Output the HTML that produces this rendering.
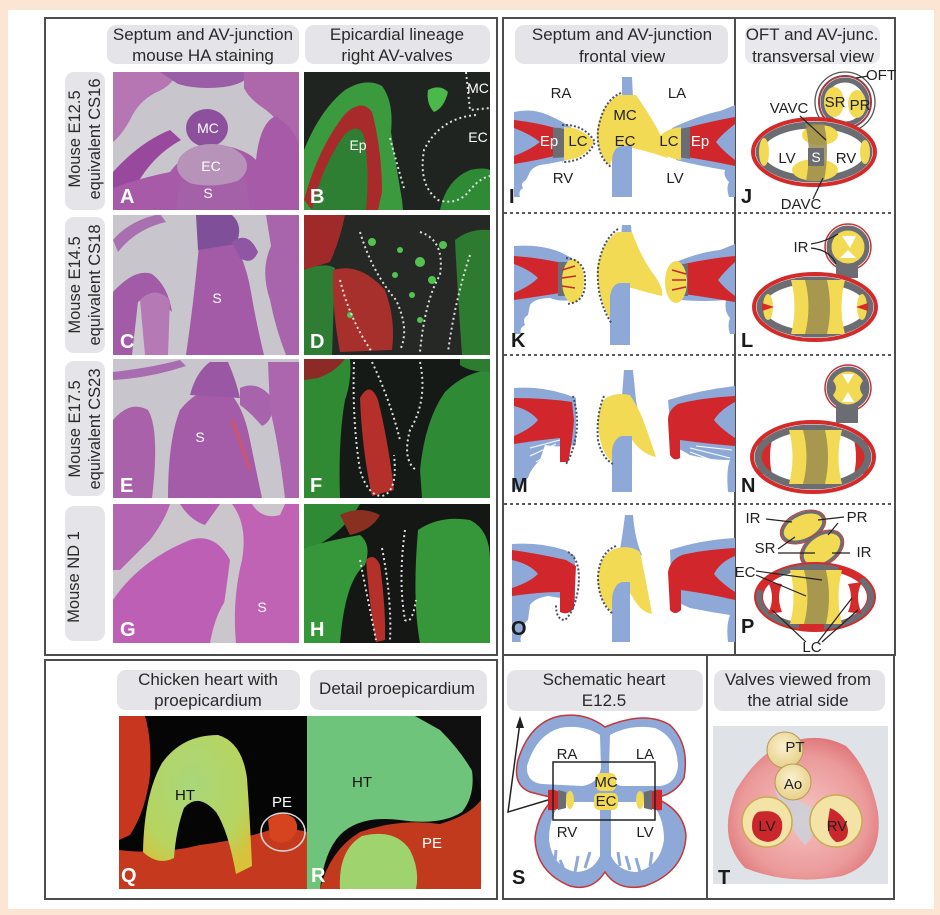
<!DOCTYPE html>
<html><head><meta charset="utf-8"><style>
html,body{margin:0;padding:0;background:#fce6d3;}
svg{display:block;}
text{font-family:"Liberation Sans",Arial,sans-serif;}
</style></head><body>
<svg width="940" height="915" viewBox="0 0 940 915" xmlns="http://www.w3.org/2000/svg">
<defs>
<clipPath id="cA"><rect x="113" y="72" width="186" height="138"/></clipPath>
<clipPath id="cB"><rect x="304" y="72" width="186" height="138"/></clipPath>
<clipPath id="cC"><rect x="113" y="215" width="186" height="140"/></clipPath>
<clipPath id="cD"><rect x="304" y="215" width="186" height="140"/></clipPath>
<clipPath id="cE"><rect x="113" y="359" width="186" height="139"/></clipPath>
<clipPath id="cF"><rect x="304" y="359" width="186" height="139"/></clipPath>
<clipPath id="cG"><rect x="113" y="504" width="186" height="139"/></clipPath>
<clipPath id="cH"><rect x="304" y="504" width="186" height="139"/></clipPath>
<clipPath id="cQ"><rect x="119" y="716" width="188" height="173"/></clipPath>
<clipPath id="cR"><rect x="307" y="716" width="174" height="173"/></clipPath>
<radialGradient id="gHT" cx="0.45" cy="0.35" r="0.7"><stop offset="0" stop-color="#a9d77a"/><stop offset="0.7" stop-color="#b7d460"/><stop offset="1" stop-color="#d7c23a"/></radialGradient>
<radialGradient id="gPink" cx="0.5" cy="0.55" r="0.6"><stop offset="0" stop-color="#f6c4c2"/><stop offset="0.7" stop-color="#eb9a9a"/><stop offset="1" stop-color="#dc6f74"/></radialGradient>
<radialGradient id="gValve" cx="0.45" cy="0.4" r="0.6"><stop offset="0" stop-color="#fbf1cf"/><stop offset="1" stop-color="#e8d08a"/></radialGradient>
</defs>

<rect x="8" y="10" width="926" height="899" fill="#ffffff"/>

<!-- ================= PANEL 1 ================= -->
<rect x="45" y="18" width="452" height="637" fill="#fff" stroke="#4d4d4d" stroke-width="2"/>
<rect x="107" y="25" width="192" height="39" rx="9" fill="#e4e4e9"/>
<rect x="305" y="25" width="185" height="39" rx="9" fill="#e4e4e9"/>
<g font-size="17" fill="#2a2a2a" text-anchor="middle">
<text x="203" y="40">Septum and AV-junction</text>
<text x="203" y="61">mouse HA staining</text>
<text x="397" y="40">Epicardial lineage</text>
<text x="397" y="61">right AV-valves</text>
</g>
<rect x="65" y="72" width="40" height="138" rx="9" fill="#e4e4e9"/>
<rect x="65" y="217" width="40" height="136" rx="9" fill="#e4e4e9"/>
<rect x="65" y="361" width="40" height="135" rx="9" fill="#e4e4e9"/>
<rect x="65" y="506" width="40" height="135" rx="9" fill="#e4e4e9"/>
<g font-size="16.5" fill="#2a2a2a" text-anchor="middle">
<text transform="translate(80,139) rotate(-90)">Mouse E12.5</text>
<text transform="translate(100,139) rotate(-90)">equivalent CS16</text>
<text transform="translate(80,285) rotate(-90)">Mouse E14.5</text>
<text transform="translate(100,285) rotate(-90)">equivalent CS18</text>
<text transform="translate(80,429) rotate(-90)">Mouse E17.5</text>
<text transform="translate(100,429) rotate(-90)">equivalent CS23</text>
<text transform="translate(79,577) rotate(-90)">Mouse ND 1</text>
</g>

<!-- Photo A -->
<g clip-path="url(#cA)">
<rect x="113" y="72" width="186" height="138" fill="#c9c5cd"/>
<path d="M113,72 L178,72 Q172,86 155,93 Q138,102 130,120 Q121,136 113,142 Z" fill="#b676b4"/>
<path d="M160,72 L252,72 Q246,84 224,87 Q198,90 178,84 Z" fill="#9a5ea6"/>
<path d="M244,72 L299,72 L299,158 Q286,126 266,110 Q249,99 244,88 Z" fill="#ad68ac"/>
<path d="M113,172 Q140,142 170,130 L181,140 Q152,156 136,186 L113,210 Z" fill="#98499d"/>
<path d="M113,210 L113,188 Q140,178 170,172 Q186,150 214,144 Q245,148 256,160 Q260,122 276,116 Q296,130 299,146 L299,210 Z" fill="#a75aa8"/>
<ellipse cx="207" cy="128" rx="21" ry="19" fill="#8d509d"/>
<ellipse cx="212" cy="166" rx="35" ry="22" fill="#b792b9"/>
<path d="M180,180 Q210,192 246,178 L250,210 L176,210 Z" fill="#a561a8"/>
</g>
<g font-size="14" fill="#fff" text-anchor="middle">
<text x="208" y="133">MC</text><text x="211" y="171">EC</text><text x="208" y="198">S</text>
</g>

<!-- Photo B -->
<g clip-path="url(#cB)">
<rect x="304" y="72" width="186" height="138" fill="#202421"/>
<path d="M304,210 L304,150 Q320,110 345,90 Q366,77 382,86 Q394,102 391,132 Q396,165 402,200 L403,210 Z" fill="#3b9a3e"/>
<path d="M304,200 Q318,148 345,114 Q362,98 372,112 Q382,150 382,192 L378,210 L312,210 Z" fill="#a82a2a"/>
<path d="M312,210 Q322,165 345,134 Q358,122 364,136 Q370,170 366,210 Z" fill="#2e7f33"/>
<path d="M440,210 Q446,180 470,170 Q484,167 490,170 L490,210 Z" fill="#2f8a35"/>
<path d="M428,90 Q440,84 448,92 Q444,108 434,112 Q426,104 428,90 Z" fill="#4ab84a"/>
<path d="M390,138 Q398,168 404,188" fill="none" stroke="#ddd" stroke-width="2" stroke-dasharray="2,3"/>
<path d="M476,115 Q440,118 424,150 Q418,185 438,200 Q458,206 470,190 Q480,178 490,176" fill="none" stroke="#ddd" stroke-width="2" stroke-dasharray="2,3"/>
<path d="M466,72 L470,110 L490,108" fill="none" stroke="#ddd" stroke-width="2" stroke-dasharray="2,3"/>
</g>
<g font-size="14" fill="#fff" text-anchor="middle">
<text x="358" y="150">Ep</text><text x="478" y="93">MC</text><text x="478" y="142">EC</text>
</g>

<!-- Photo C -->
<g clip-path="url(#cC)">
<rect x="113" y="215" width="186" height="140" fill="#c9c5cd"/>
<path d="M186,355 Q194,300 199,245 L232,238 Q246,262 251,292 Q256,322 264,355 Z" fill="#a35aa7"/>
<path d="M196,215 L232,215 Q244,226 236,244 L198,250 Z" fill="#7f4f99"/>
<path d="M113,292 Q135,268 152,274 Q168,286 172,312 Q152,292 138,302 L132,355 L113,355 Z" fill="#a25ba6"/>
<path d="M113,240 Q130,220 160,214 L166,222 Q136,229 118,252 Z" fill="#a870b0"/>
<path d="M232,242 Q248,230 258,252 Q252,266 240,258 Z" fill="#8f56a3"/>
<path d="M266,215 L299,215 L299,355 L286,355 Q276,330 270,300 Q260,270 271,246 Z" fill="#a865ab"/>
<path d="M140,300 Q155,285 170,300 L168,355 L145,355 Z" fill="#b57ab5"/>
</g>
<text x="217" y="303" font-size="14" fill="#fff" text-anchor="middle">S</text>

<!-- Photo D -->
<g clip-path="url(#cD)">
<rect x="304" y="215" width="186" height="140" fill="#252825"/>
<path d="M304,215 L345,215 Q340,240 330,262 L304,270 Z" fill="#a02a2a"/>
<path d="M304,270 Q325,262 335,268 L332,355 L304,355 Z" fill="#2f7d34"/>
<path d="M333,270 Q360,262 385,290 Q396,320 392,350 L340,352 Q332,310 333,270 Z" fill="#a8302c"/>
<path d="M455,240 Q470,228 490,230 L490,355 L462,355 Q458,300 455,240 Z" fill="#2d7a31"/>
<g fill="#52c252"><circle cx="372" cy="242" r="4"/><circle cx="400" cy="250" r="3"/><circle cx="420" cy="262" r="5"/><circle cx="432" cy="280" r="4"/><circle cx="412" cy="295" r="3"/><circle cx="395" cy="275" r="3"/><circle cx="443" cy="245" r="4"/><circle cx="350" cy="315" r="3"/><circle cx="420" cy="320" r="3"/></g>
<path d="M360,232 Q372,272 396,300 Q410,330 400,350" fill="none" stroke="#ddd" stroke-width="2" stroke-dasharray="2,3"/>
<path d="M340,280 Q350,320 372,352" fill="none" stroke="#ddd" stroke-width="2" stroke-dasharray="2,3"/>
<path d="M420,232 Q445,240 440,275 Q425,300 420,352" fill="none" stroke="#ddd" stroke-width="2" stroke-dasharray="2,3"/>
<path d="M470,255 Q455,300 448,352" fill="none" stroke="#ddd" stroke-width="2" stroke-dasharray="2,3"/>
</g>

<!-- Photo E -->
<g clip-path="url(#cE)">
<rect x="113" y="359" width="186" height="139" fill="#c9c5cd"/>
<path d="M113,372 Q150,368 180,360 L186,366 Q150,378 113,380 Z" fill="#a86cb0"/>
<path d="M113,420 Q130,400 148,410 Q160,430 152,498 L113,498 Z" fill="#a962aa"/>
<path d="M168,498 Q168,440 180,410 Q200,385 225,390 Q242,400 250,440 Q256,470 262,498 Z" fill="#a45ca8"/>
<path d="M190,395 Q196,372 210,362 L228,362 Q236,380 240,398 Z" fill="#9a58a4"/>
<path d="M240,388 Q258,380 272,398 Q275,420 262,426 Q250,412 240,405 Z" fill="#a763ab"/>
<path d="M268,362 L299,362 L299,498 L285,498 Q278,440 270,410 Z" fill="#ac66ad"/>
<path d="M232,420 Q240,440 250,470" stroke="#c4567a" stroke-width="4" fill="none"/>
</g>
<text x="200" y="442" font-size="14" fill="#fff" text-anchor="middle">S</text>

<!-- Photo F -->
<g clip-path="url(#cF)">
<rect x="304" y="359" width="186" height="139" fill="#161a17"/>
<path d="M304,359 L350,359 Q352,380 345,400 Q338,440 340,498 L304,498 Z" fill="#2f8a33"/>
<path d="M304,359 L345,359 Q335,372 318,378 L304,380 Z" fill="#8c2a25"/>
<path d="M360,398 Q370,380 378,400 Q388,440 394,490 L372,496 Q362,450 360,398 Z" fill="#b5302b"/>
<path d="M420,470 Q425,420 445,392 Q465,372 490,370 L490,498 L422,498 Z" fill="#2e8a34"/>
<path d="M460,359 L490,359 L490,372 Q470,372 460,365 Z" fill="#2c7d31"/>
<path d="M354,362 Q352,420 360,470 Q368,496 382,496 Q398,492 394,455" fill="none" stroke="#ddd" stroke-width="2" stroke-dasharray="2,3"/>
<path d="M372,362 Q390,400 400,440" fill="none" stroke="#ddd" stroke-width="2" stroke-dasharray="2,3"/>
<path d="M420,362 Q428,400 410,430 Q402,460 416,470" fill="none" stroke="#ddd" stroke-width="2" stroke-dasharray="2,3"/>
</g>

<!-- Photo G -->
<g clip-path="url(#cG)">
<rect x="113" y="504" width="186" height="139" fill="#cac6cc"/>
<path d="M113,643 L113,600 Q140,560 190,540 Q215,532 230,560 Q225,600 218,643 Z" fill="#bd5fb4"/>
<path d="M113,504 L170,504 Q165,520 150,540 Q130,560 120,570 L113,570 Z" fill="#b466b2"/>
<path d="M180,504 Q190,520 205,525 L220,504 Z" fill="#b35fb1"/>
<path d="M232,504 L299,504 L299,643 L236,643 Q232,600 242,560 Q248,525 232,504 Z" fill="#c063b5"/>
<path d="M252,504 Q262,520 280,515 L285,504 Z" fill="#cac6cc"/>
<path d="M210,643 Q215,615 226,600 Q232,620 228,643 Z" fill="#cac6cc"/>
</g>
<text x="262" y="612" font-size="14" fill="#fff" text-anchor="middle">S</text>

<!-- Photo H -->
<g clip-path="url(#cH)">
<rect x="304" y="504" width="186" height="139" fill="#141714"/>
<path d="M304,504 L360,504 Q345,530 318,545 L304,548 Z" fill="#2e8a34"/>
<path d="M304,548 Q330,540 360,535 Q372,545 365,565 Q345,580 340,643 L304,643 Z" fill="#35963a"/>
<path d="M340,515 Q360,505 380,515 Q372,530 350,535 Z" fill="#8a3020"/>
<path d="M366,560 Q374,552 380,565 Q386,610 385,640 L376,642 Q370,610 366,560 Z" fill="#b5302b"/>
<path d="M418,530 Q440,515 470,520 Q490,530 490,560 L490,643 L420,643 Q412,600 418,530 Z" fill="#35963a"/>
<path d="M360,560 Q368,600 376,640" fill="none" stroke="#ddd" stroke-width="2" stroke-dasharray="2,3"/>
<path d="M382,548 Q392,600 390,640" fill="none" stroke="#ddd" stroke-width="2" stroke-dasharray="2,3"/>
<path d="M405,530 Q398,580 405,620 Q412,625 416,600" fill="none" stroke="#ddd" stroke-width="2" stroke-dasharray="2,3"/>
</g>

<g font-size="20" font-weight="bold" fill="#fff">
<text x="120" y="203">A</text><text x="310" y="203">B</text>
<text x="120" y="348">C</text><text x="310" y="348">D</text>
<text x="120" y="492">E</text><text x="310" y="492">F</text>
<text x="120" y="636">G</text><text x="310" y="636">H</text>
</g>

<!-- ================= PANEL 2 ================= -->
<rect x="503" y="18" width="392" height="637" fill="#fff" stroke="#4d4d4d" stroke-width="2"/>
<line x1="735" y1="18" x2="735" y2="655" stroke="#4d4d4d" stroke-width="2"/>
<g stroke="#5a5a5a" stroke-width="2" stroke-dasharray="3,3">
<line x1="504" y1="213" x2="894" y2="213"/>
<line x1="504" y1="355" x2="894" y2="355"/>
<line x1="504" y1="504" x2="894" y2="504"/>
</g>
<rect x="515" y="25" width="213" height="39" rx="9" fill="#e4e4e9"/>
<rect x="745" y="25" width="135" height="39" rx="9" fill="#e9e9ed"/>
<g font-size="17" fill="#2a2a2a" text-anchor="middle">
<text x="622" y="40">Septum and AV-junction</text>
<text x="622" y="62">frontal view</text>
<text x="812" y="40">OFT and AV-junc.</text>
<text x="813" y="62">transversal view</text>
</g>

<!-- Panel I -->
<path d="M514,112 Q532,108 548,115 Q562,121 572,128 L574,158 Q556,163 540,165 Q531,168 529,174 L526,180 Q520,183 523,188 Q518,191 520,197 L514,197 Z" fill="#8ea8d8"/>
<path d="M514,120 Q540,123 562,130 L562,154 Q540,160 514,164 L514,156 Q530,150 540,142 Q530,134 514,128 Z" fill="#d0262c"/>
<path d="M553,128 Q560,127 567,130 Q571,143 567,157 L553,158 Z" fill="#6b6d72"/>
<path d="M564,127 Q582,127 594,142 Q584,160 564,160 Z" fill="#f2da55"/>
<path d="M562,125 Q584,124 595,142 Q586,162 562,162" fill="none" stroke="#4a4f66" stroke-width="2" stroke-dasharray="2,2"/>
<path d="M622,77 L632,77 L633,98 L622,98 Z" fill="#8ea8d8"/>
<path d="M618,95 L636,95 Q648,112 658,130 Q666,145 668,158 Q650,152 633,148 L622,148 Q613,152 610,166 Q598,156 597,132 Q600,106 618,95 Z" fill="#f2da55"/>
<path d="M612,197 L612,160 Q613,147 622,146 L632,146 L632,197 Z" fill="#8ea8d8"/>
<path d="M621,93 Q603,100 598,130 Q596,156 611,167" fill="none" stroke="#4a4f66" stroke-width="2" stroke-dasharray="2,2"/>
<path d="M672,128 Q700,115 720,111 Q728,108 735,105 L735,197 L729,197 Q726,188 729,182 Q723,176 725,170 Q700,166 676,160 Z" fill="#8ea8d8"/>
<path d="M686,128 Q712,121 735,117 L735,124 Q722,134 716,142 Q722,150 735,160 L735,166 Q712,161 686,157 Z" fill="#d0262c"/>
<path d="M678,129 L690,127 L690,159 L678,157 Q674,143 678,129 Z" fill="#6b6d72"/>
<path d="M681,127 Q662,129 655,143 Q662,158 681,160 Z" fill="#f2da55"/>
<g font-size="15" fill="#222" text-anchor="middle">
<text x="561" y="98">RA</text><text x="677" y="98">LA</text>
<text x="625" y="120">MC</text><text x="625" y="146">EC</text>
<text x="578" y="146">LC</text><text x="669" y="146">LC</text>
<text x="563" y="183">RV</text><text x="675" y="183">LV</text>
</g>
<g font-size="15" fill="#fff" text-anchor="middle"><text x="549" y="146">Ep</text><text x="700" y="146">Ep</text></g>

<!-- Panel K -->
<path d="M514,246 Q540,244 560,252 L572,258 L572,300 Q560,302 550,298 Q535,298 530,305 L528,315 Q522,318 525,325 Q519,328 521,334 L514,334 Z" fill="#8ea8d8"/>
<path d="M514,256 Q542,258 566,264 L566,292 Q542,296 514,300 L514,293 Q530,286 538,278 Q530,270 514,264 Z" fill="#d0262c"/>
<path d="M558,262 L568,262 L568,296 L558,296 Z" fill="#6b6d72"/>
<ellipse cx="573" cy="281" rx="11" ry="22" fill="#f2da55"/>
<path d="M566,258 Q586,260 585,281 Q586,303 566,304" fill="none" stroke="#4a4f66" stroke-width="2" stroke-dasharray="2,2"/>
<path d="M562,270 L575,266 M562,278 L576,276 M562,286 L575,288" stroke="#c02a2a" stroke-width="1.5"/>
<path d="M622,225 L631,225 L632,238 L621,238 Z" fill="#8ea8d8"/>
<path d="M617,232 L632,232 Q640,255 652,272 Q664,288 662,296 Q648,293 632,288 L622,288 Q612,295 612,322 Q598,300 597,270 Q600,245 617,232 Z" fill="#f2da55"/>
<path d="M610,345 L610,296 Q612,284 620,283 L630,283 L630,345 Z" fill="#8ea8d8"/>
<path d="M618,229 Q602,240 598,268 Q596,300 612,324" fill="none" stroke="#4a4f66" stroke-width="2" stroke-dasharray="2,2"/>
<path d="M676,262 Q700,252 720,250 Q730,246 735,244 L735,334 L730,334 Q727,325 730,318 Q724,312 726,300 Q705,302 680,300 Z" fill="#8ea8d8"/>
<path d="M684,264 Q712,258 735,256 L735,262 Q724,272 718,280 Q724,288 735,296 L735,302 Q712,298 684,294 Z" fill="#d0262c"/>
<path d="M678,264 L688,264 L688,296 L678,296 Z" fill="#6b6d72"/>
<ellipse cx="676" cy="282" rx="11" ry="21" fill="#f2da55"/>
<path d="M672,270 L686,274 M672,280 L686,280 M672,290 L686,287" stroke="#c02a2a" stroke-width="1.5"/>

<!-- Panel M -->
<path d="M514,388 Q540,386 565,394 L576,398 L576,445 Q560,448 545,445 L540,460 Q530,470 528,478 Q520,482 522,488 L514,490 Z" fill="#8ea8d8"/>
<path d="M514,398 Q545,398 572,402 L574,420 Q572,445 568,462 L560,462 Q560,445 560,438 Q540,440 514,444 L514,436 Q532,428 538,420 Q530,410 514,406 Z" fill="#d0262c"/>
<path d="M530,448 L560,440 M530,456 L556,444 M536,462 L558,448" stroke="#fff" stroke-width="1"/>
<path d="M573,396 Q580,420 575,440 Q572,455 566,464" fill="none" stroke="#4a4f66" stroke-width="2" stroke-dasharray="2,2"/>
<path d="M624,370 L633,370 L636,400 L640,422 L620,422 Z" fill="#8ea8d8"/>
<path d="M606,398 Q616,392 630,395 Q640,410 645,425 Q652,445 656,457 Q642,454 632,440 L625,438 Q615,442 612,462 Q600,452 598,425 Q598,405 606,398 Z" fill="#f2da55"/>
<path d="M612,492 L612,450 Q614,438 622,436 L632,436 L632,492 Z" fill="#8ea8d8"/>
<path d="M604,396 Q596,415 598,440 Q602,458 613,464" fill="none" stroke="#4a4f66" stroke-width="2" stroke-dasharray="2,2"/>
<path d="M668,400 Q700,390 735,386 L735,492 L728,492 Q726,470 730,460 Q710,460 690,455 L672,445 Z" fill="#8ea8d8"/>
<path d="M735,396 Q700,398 678,404 Q668,410 668,420 L670,455 Q674,462 680,458 L680,440 Q710,444 735,446 L735,438 Q720,428 714,420 Q720,410 735,402 Z" fill="#d0262c"/>
<path d="M690,448 L730,458 M690,452 L728,466 M696,446 L732,450" stroke="#fff" stroke-width="1"/>

<!-- Panel O -->
<path d="M512,544 Q540,542 565,550 L575,556 L575,600 Q560,598 548,596 Q535,598 530,605 L528,620 Q522,624 525,632 Q519,636 521,642 L512,642 Z" fill="#8ea8d8"/>
<path d="M512,550 Q540,554 566,560 L576,566 L574,608 Q568,616 560,612 L560,592 Q540,592 512,596 L512,588 Q530,582 538,574 Q530,564 512,560 Z" fill="#d0262c"/>
<path d="M568,552 Q582,560 578,590 Q574,612 565,620 Q556,620 556,605" fill="none" stroke="#4a4f66" stroke-width="2" stroke-dasharray="2,2"/>
<path d="M625,515 L633,515 Q635,540 642,555 L618,560 Q622,540 625,515 Z" fill="#8ea8d8"/>
<path d="M618,548 Q630,545 640,552 Q646,580 652,614 Q640,612 632,596 L625,586 Q614,590 612,612 Q598,600 598,576 Q600,552 618,548 Z" fill="#f2da55"/>
<path d="M612,642 L612,598 Q614,584 622,582 L630,582 L630,642 Z" fill="#8ea8d8"/>
<path d="M616,546 Q600,552 598,576 Q598,602 613,614" fill="none" stroke="#4a4f66" stroke-width="2" stroke-dasharray="2,2"/>
<path d="M670,550 Q700,540 735,538 L735,642 L728,642 Q726,625 730,615 Q710,612 690,608 L672,600 Z" fill="#8ea8d8"/>
<path d="M735,548 Q702,550 682,555 Q670,560 668,572 L670,610 Q675,616 681,610 L681,590 Q710,594 735,600 L735,592 Q720,582 714,574 Q720,562 735,556 Z" fill="#d0262c"/>

<g font-size="20" font-weight="bold" fill="#1a1a1a">
<text x="509" y="203">I</text><text x="741" y="203">J</text>
<text x="511" y="347">K</text><text x="741" y="347">L</text>
<text x="511" y="492">M</text><text x="741" y="492">N</text>
<text x="511" y="635">O</text><text x="741" y="633">P</text>
</g>

<!-- Panel J -->
<circle cx="845" cy="102" r="30" fill="#fff" stroke="#555" stroke-width="1.3"/>
<circle cx="845" cy="102" r="26" fill="none" stroke="#a03c44" stroke-width="2"/>
<circle cx="845" cy="102" r="22" fill="#fff" stroke="#6b6d72" stroke-width="5"/>
<ellipse cx="834" cy="102" rx="10" ry="15" fill="#f2da55"/>
<ellipse cx="857" cy="104" rx="9" ry="14" fill="#f2da55"/>
<line x1="856" y1="78" x2="868" y2="76" stroke="#222" stroke-width="1.2"/>
<ellipse cx="814" cy="152" rx="61" ry="33" fill="#fff" stroke="#d42a2a" stroke-width="4"/>
<ellipse cx="814" cy="152" rx="55" ry="27" fill="#fff" stroke="#6b6d72" stroke-width="7"/>
<ellipse cx="820" cy="135" rx="18" ry="10" fill="#f2da55"/>
<ellipse cx="815" cy="170" rx="23" ry="11" fill="#f2da55"/>
<ellipse cx="764" cy="152" rx="5" ry="14" fill="#f2da55"/>
<ellipse cx="865" cy="152" rx="5" ry="12" fill="#f2da55"/>
<path d="M805,124 Q812,150 806,181 L824,181 Q830,150 824,124 Z" fill="#9b8b4f" opacity="0.85"/>
<rect x="808" y="148" width="16" height="18" fill="#6b6d72"/>
<g font-size="15" fill="#222" text-anchor="middle">
<text x="835" y="107">SR</text><text x="860" y="110">PR</text>
<text x="881" y="80">OFT</text>
<text x="789" y="113">VAVC</text>
<text x="787" y="163">LV</text><text x="846" y="163">RV</text>
<text x="801" y="209">DAVC</text>
</g>
<text x="816" y="162" font-size="14" fill="#fff" text-anchor="middle">S</text>
<line x1="800" y1="116" x2="826" y2="140" stroke="#222" stroke-width="1.2"/>
<line x1="823" y1="178" x2="813" y2="199" stroke="#222" stroke-width="1.2"/>

<!-- Panel L -->
<circle cx="848" cy="247" r="23" fill="none" stroke="#c0393b" stroke-width="1.5"/>
<circle cx="848" cy="247" r="19" fill="#f2da55" stroke="#6b6d72" stroke-width="5"/>
<path d="M842,236 L856,236 L850,248 Z M840,258 L856,258 L848,250 Z" fill="#fff"/>
<rect x="836" y="264" width="22" height="14" fill="#6b6d72"/>
<ellipse cx="815" cy="307" rx="61" ry="33" fill="#fff" stroke="#d42a2a" stroke-width="4"/>
<ellipse cx="815" cy="307" rx="55" ry="27" fill="#fff" stroke="#6b6d72" stroke-width="7"/>
<path d="M791,280 Q798,307 791,334 L845,334 Q838,307 845,280 Z" fill="#f2da55"/>
<path d="M805,280 Q812,307 805,334 L827,334 Q833,307 827,280 Z" fill="#9b8b4f" opacity="0.85"/>
<ellipse cx="768" cy="307" rx="5" ry="13" fill="#f2da55"/>
<ellipse cx="862" cy="307" rx="5" ry="13" fill="#f2da55"/>
<path d="M762,303 L774,307 L762,311 Z" fill="#d42a2a"/>
<path d="M868,303 L856,307 L868,311 Z" fill="#d42a2a"/>
<text x="801" y="252" font-size="15" fill="#222" text-anchor="middle">IR</text>
<path d="M811,244 Q825,242 838,234 M811,248 Q830,250 836,264" fill="none" stroke="#222" stroke-width="1.2"/>

<!-- Panel N -->
<circle cx="848" cy="388" r="23" fill="none" stroke="#c0393b" stroke-width="1.5"/>
<circle cx="848" cy="388" r="19" fill="#f2da55" stroke="#6b6d72" stroke-width="5"/>
<path d="M830,378 Q842,388 830,398 Z M866,378 Q854,388 866,398 Z" fill="#6b6d72"/>
<path d="M842,374 L854,374 L848,384 Z M842,402 L854,402 L848,392 Z" fill="#fff"/>
<rect x="836" y="405" width="22" height="18" fill="#6b6d72"/>
<ellipse cx="813" cy="457" rx="61" ry="35" fill="#fff" stroke="#d42a2a" stroke-width="4"/>
<path d="M760,440 Q752,457 760,474 L772,474 Q768,457 772,440 Z" fill="#d42a2a"/>
<path d="M866,440 Q874,457 866,474 L854,474 Q858,457 854,440 Z" fill="#d42a2a"/>
<ellipse cx="813" cy="457" rx="55" ry="29" fill="none" stroke="#6b6d72" stroke-width="7"/>
<path d="M789,430 Q796,457 789,484 L842,484 Q835,457 842,430 Z" fill="#f2da55"/>
<path d="M803,430 Q810,457 803,484 L825,484 Q831,457 825,430 Z" fill="#9b8b4f" opacity="0.85"/>

<!-- Panel P -->
<g transform="rotate(-25 803 527)"><ellipse cx="803" cy="527" rx="22" ry="13" fill="#f2da55" stroke="#6b6d72" stroke-width="3"/><ellipse cx="803" cy="527" rx="24" ry="15" fill="none" stroke="#c0393b" stroke-width="1"/></g>
<g transform="rotate(-35 822 549)"><ellipse cx="822" cy="549" rx="22" ry="14" fill="#f2da55" stroke="#6b6d72" stroke-width="3"/><ellipse cx="822" cy="549" rx="24" ry="16" fill="none" stroke="#c0393b" stroke-width="1"/></g>
<ellipse cx="815" cy="597" rx="61" ry="35" fill="#d42a2a"/>
<ellipse cx="815" cy="597" rx="52" ry="27" fill="#fff"/>
<ellipse cx="815" cy="597" rx="56" ry="30" fill="none" stroke="#6b6d72" stroke-width="6" stroke-dasharray="60,25"/>
<path d="M790,570 Q797,597 790,624 L842,624 Q835,597 842,570 Z" fill="#f2da55"/>
<path d="M804,570 Q811,597 804,624 L826,624 Q832,597 826,570 Z" fill="#9b8b4f" opacity="0.85"/>
<path d="M768,582 Q776,597 768,614 L782,612 Q776,597 782,584 Z" fill="#d42a2a"/>
<path d="M862,582 Q854,597 862,614 L848,612 Q854,597 848,584 Z" fill="#d42a2a"/>
<g font-size="15" fill="#222" text-anchor="middle">
<text x="753" y="523">IR</text><text x="857" y="522">PR</text>
<text x="765" y="553">SR</text><text x="864" y="557">IR</text>
<text x="745" y="577">EC</text><text x="812" y="652">LC</text>
</g>
<g stroke="#222" stroke-width="1.2" fill="none">
<line x1="766" y1="519" x2="792" y2="522"/>
<line x1="844" y1="517" x2="818" y2="520"/>
<line x1="838" y1="523" x2="828" y2="535"/>
<line x1="778" y1="549" x2="795" y2="537"/>
<line x1="778" y1="553" x2="815" y2="553"/>
<line x1="850" y1="553" x2="832" y2="553"/>
<line x1="756" y1="571" x2="822" y2="580"/>
<line x1="756" y1="575" x2="806" y2="596"/>
<line x1="806" y1="642" x2="772" y2="610"/>
<line x1="818" y1="642" x2="852" y2="598"/>
<line x1="822" y1="642" x2="858" y2="610"/>
</g>

<!-- ================= BOTTOM LEFT ================= -->
<rect x="45" y="660" width="452" height="239" fill="#fff" stroke="#4d4d4d" stroke-width="2"/>
<rect x="117" y="670" width="183" height="40" rx="9" fill="#e4e4e9"/>
<rect x="310" y="670" width="177" height="40" rx="9" fill="#e4e4e9"/>
<g font-size="17" fill="#2a2a2a" text-anchor="middle">
<text x="208" y="685">Chicken heart with</text>
<text x="208" y="706">proepicardium</text>
<text x="397" y="694">Detail proepicardium</text>
</g>
<g clip-path="url(#cQ)">
<rect x="119" y="716" width="188" height="173" fill="#050505"/>
<path d="M119,716 L145,716 Q152,740 150,775 Q146,810 130,835 L119,840 Z" fill="#c8361f"/>
<path d="M119,889 L119,850 Q160,855 200,845 Q240,840 270,830 Q295,828 307,832 L307,889 Z" fill="#c53a1f"/>
<path d="M143,852 Q144,795 162,763 Q182,735 218,735 Q242,742 247,778 Q250,820 252,866 L236,874 Q228,830 216,812 Q198,792 184,808 Q176,830 174,858 Q158,866 143,852 Z" fill="url(#gHT)"/>
<path d="M268,820 Q280,808 294,818 Q302,830 290,840 Q278,846 270,838 Z" fill="#d6431f"/>
<ellipse cx="283" cy="832" rx="22" ry="19" fill="none" stroke="#d8d8d8" stroke-width="1.5"/>
</g>
<text x="185" y="800" font-size="15" fill="#111" text-anchor="middle">HT</text>
<text x="282" y="807" font-size="15" fill="#fff" text-anchor="middle">PE</text>
<g clip-path="url(#cR)">
<rect x="307" y="716" width="174" height="173" fill="#0a0a0a"/>
<path d="M307,716 L415,716 Q455,720 470,760 Q478,792 462,812 Q440,826 400,820 Q360,815 340,835 Q324,852 320,889 L307,889 Z" fill="#6ec47a"/>
<path d="M415,716 L481,716 L481,790 Q470,760 440,730 Z" fill="#101010"/>
<path d="M320,889 Q330,850 360,832 Q400,818 440,824 Q470,815 481,800 L481,889 Z" fill="#c23a1e"/>
<path d="M340,889 Q338,850 362,836 Q395,828 410,850 Q420,870 416,889 Z" fill="#9fd36e"/>
</g>
<text x="362" y="787" font-size="15" fill="#111" text-anchor="middle">HT</text>
<text x="432" y="848" font-size="15" fill="#fff" text-anchor="middle">PE</text>
<g font-size="20" font-weight="bold" fill="#fff"><text x="121" y="882">Q</text><text x="311" y="882">R</text></g>

<!-- ================= BOTTOM MIDDLE / RIGHT ================= -->
<rect x="503" y="655" width="391" height="244" fill="#fff" stroke="#4d4d4d" stroke-width="2"/>
<line x1="707" y1="655" x2="707" y2="899" stroke="#4d4d4d" stroke-width="2"/>
<rect x="507" y="670" width="196" height="41" rx="9" fill="#e4e4e9"/>
<rect x="714" y="670" width="171" height="41" rx="9" fill="#e4e4e9"/>
<g font-size="17" fill="#2a2a2a" text-anchor="middle">
<text x="604" y="685">Schematic heart</text>
<text x="604" y="706">E12.5</text>
<text x="798" y="685">Valves viewed from</text>
<text x="798" y="706">the atrial side</text>
</g>
<path d="M605,727 Q585,712 560,716 Q530,722 518,760 Q512,785 530,792 Q545,796 555,798 Q538,812 535,838 Q536,872 570,886 Q592,892 605,872 Q618,892 645,886 Q684,872 686,836 Q684,810 655,798 Q676,794 684,778 Q690,744 670,725 Q645,710 605,727 Z" fill="#8ea8d8" stroke="#c0393b" stroke-width="1.5"/>
<path d="M600,735 Q582,724 560,728 Q536,735 527,766 Q526,782 542,784 L582,786 Q598,784 601,768 Z" fill="#fff"/>
<path d="M610,735 Q630,724 655,728 Q677,737 678,766 Q676,784 660,786 L622,786 Q609,784 609,768 Z" fill="#fff"/>
<path d="M600,802 L562,802 Q549,815 549,840 Q552,866 575,872 Q593,872 600,856 Z" fill="#fff"/>
<path d="M611,802 L650,802 Q664,815 664,840 Q660,866 637,872 Q619,872 611,856 Z" fill="#fff"/>
<g stroke="#8ea8d8" stroke-width="3" fill="none">
<path d="M565,872 L560,860 M575,872 L578,856 M585,868 L590,852 M555,862 L556,850 M640,872 L636,858 M630,870 L626,856 M650,866 L652,852 M620,866 L618,852"/>
</g>
<path d="M548,790 Q560,788 565,800 Q560,812 548,810 Z" fill="#d0262c"/>
<path d="M558,790 L566,792 L566,808 L558,810 Z" fill="#6b6d72"/>
<ellipse cx="570" cy="800" rx="4" ry="9" fill="#f2da55"/>
<path d="M662,790 Q650,788 645,800 Q650,812 662,810 Z" fill="#d0262c"/>
<path d="M652,790 L644,792 L644,808 L652,810 Z" fill="#6b6d72"/>
<ellipse cx="640" cy="800" rx="4" ry="9" fill="#f2da55"/>
<rect x="596" y="773" width="20" height="18" rx="5" fill="#f2da55"/>
<rect x="594" y="793" width="24" height="17" rx="5" fill="#f2da55"/>
<rect x="553" y="762" width="102" height="58" fill="none" stroke="#222" stroke-width="1.5"/>
<path d="M548,800 L508,812 L520,722" fill="none" stroke="#222" stroke-width="1.5"/>
<path d="M520,716 L516,728 L524,728 Z" fill="#222"/>
<g font-size="15" fill="#222" text-anchor="middle">
<text x="567" y="759">RA</text><text x="645" y="759">LA</text>
<text x="606" y="787">MC</text><text x="606" y="806">EC</text>
<text x="567" y="837">RV</text><text x="645" y="837">LV</text>
</g>
<rect x="713" y="726" width="175" height="158" fill="#dfe3e8"/>
<path d="M790,742 Q760,750 736,790 Q716,838 745,868 Q790,886 842,876 Q884,862 878,812 Q870,770 846,746 Q820,732 790,742 Z" fill="url(#gPink)"/>
<path d="M775,790 Q800,800 815,810 Q820,830 805,845 Q790,830 775,790 Z" fill="#c9d2dc" opacity="0.8"/>
<circle cx="785" cy="750" r="18" fill="url(#gValve)" stroke="#b59a58" stroke-width="1"/>
<circle cx="793" cy="782" r="18" fill="url(#gValve)" stroke="#b59a58" stroke-width="1"/>
<circle cx="767" cy="822" r="25" fill="#f4e3a6" stroke="#c9a955" stroke-width="1.5"/>
<path d="M758,812 Q778,808 782,822 Q784,840 768,842 Q752,840 752,826 Q752,816 758,812 Z" fill="#c9272c"/>
<circle cx="836" cy="821" r="26" fill="#f4e3a6" stroke="#c9a955" stroke-width="1.5"/>
<path d="M830,808 Q846,815 848,830 Q848,842 836,842 Q826,835 828,820 Z" fill="#c9272c"/>
<g font-size="15" fill="#222" text-anchor="middle">
<text x="795" y="752">PT</text><text x="793" y="789">Ao</text>
<text x="767" y="831">LV</text><text x="837" y="831">RV</text>
</g>
<g font-size="20" font-weight="bold" fill="#1a1a1a"><text x="512" y="884">S</text><text x="718" y="884">T</text></g>
</svg>
</body></html>
